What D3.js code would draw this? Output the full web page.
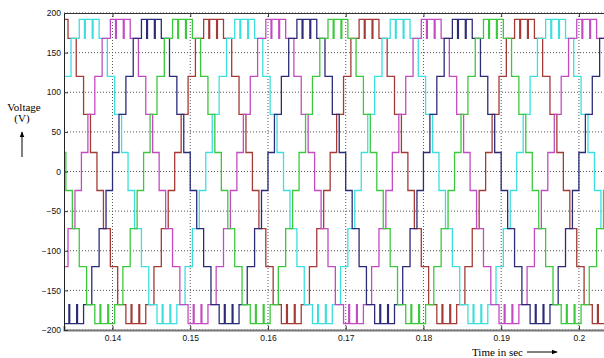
<!DOCTYPE html>
<html>
<head>
<meta charset="utf-8">
<script src="https://cdn.jsdelivr.net/npm/d3@7"></script>
<style>
  body { margin: 0; background: #fff; }
  svg { display: block; }
  .tick text { font-family: "Liberation Sans", Arial, sans-serif; font-size: 8.5px; fill: #111; }
  .lbl { font-family: "Liberation Serif", "Times New Roman", serif; font-size: 11px; fill: #000; }
</style>
</head>
<body>
<svg id="chart"></svg>
<script>
// period of the supply (s) and peak instants of the five phases
const period = 0.02;
const seriesNames = ["a", "b", "c", "d", "e"];
const seriesColors = ["#a33a36", "#3ddede", "#c24bc2", "#2b2b78", "#3cc83c"];
const peakTimes = [0.1530, 0.1570, 0.1610, 0.1650, 0.1690];

// one positive half-cycle of the staircase
// (angle in degrees from the rising zero crossing where each level starts)
const stepAngles = [0, 15, 31, 48, 67, 79, 81, 97, 99, 113, 132, 149, 165];
const stepLevels = [24, 72, 120, 168, 192, 168, 192, 168, 192, 168, 120, 72, 24];

const xTicks = [0.14, 0.15, 0.16, 0.17, 0.18, 0.19, 0.2];
const yTicks = [-200, -150, -100, -50, 0, 50, 100, 150, 200];

const W = 604, H = 358;
const margin = { top: 13, right: -6, bottom: 28, left: 64 };
const innerW = W - margin.left - margin.right;
const innerH = H - margin.top - margin.bottom;

const svg = d3.select("#chart").attr("width", W).attr("height", H);

const x = d3.scaleLinear().domain([0.13376, 0.2040]).range([0, innerW]);
const y = d3.scaleLinear().domain([-200, 200]).range([innerH, 0]);

const g = svg.append("g").attr("transform", `translate(${margin.left},${margin.top})`);

svg.append("defs").append("clipPath").attr("id", "clip")
  .append("rect").attr("width", innerW).attr("height", innerH + 1).attr("y", -0.5);

// grid
g.append("g").selectAll("line").data(xTicks).join("line")
  .attr("x1", d => x(d)).attr("x2", d => x(d))
  .attr("y1", 0).attr("y2", innerH)
  .attr("stroke", "#555").attr("stroke-width", 1).attr("stroke-dasharray", "1,2");
g.append("g").selectAll("line").data(yTicks).join("line")
  .attr("x1", 0).attr("x2", innerW)
  .attr("y1", d => y(d)).attr("y2", d => y(d))
  .attr("stroke", "#555").attr("stroke-width", 1).attr("stroke-dasharray", "1,2");

// build each phase from the half-cycle pattern
function buildSeries(peak) {
  const pts = [];
  const t0 = peak - period / 4;
  const kStart = Math.floor((x.domain()[0] - t0) / period) - 1;
  const kEnd = Math.ceil((x.domain()[1] - t0) / period) + 1;
  for (let k = kStart; k <= kEnd; k++) {
    [1, -1].forEach((sign, half) => {
      stepAngles.forEach((a, i) => {
        const t = t0 + k * period + (half * 180 + a) / 360 * period;
        pts.push({ t: t, v: sign * stepLevels[i] });
      });
    });
  }
  return pts;
}

const line = d3.line().x(d => x(d.t)).y(d => y(d.v)).curve(d3.curveStepAfter);

const plot = g.append("g").attr("clip-path", "url(#clip)");
seriesNames.forEach((name, i) => {
  plot.append("path")
    .datum(buildSeries(peakTimes[i]))
    .attr("fill", "none")
    .attr("stroke", seriesColors[i])
    .attr("stroke-width", 1.3)
    .attr("d", line);
});

// axes (MATLAB style, ticks inside)
const xAxis = g.append("g").attr("transform", `translate(0,${innerH})`)
  .call(d3.axisBottom(x).tickValues(xTicks).tickSize(-4).tickPadding(5).tickFormat(d3.format("")));
xAxis.select(".domain").attr("stroke", "#777").attr("stroke-width", 2);
xAxis.selectAll(".tick line").attr("stroke", "#333");

const xTop = g.append("g")
  .call(d3.axisTop(x).tickValues(xTicks).tickSize(-4).tickFormat(""));
xTop.select(".domain").attr("stroke", "#333");
xTop.selectAll(".tick line").attr("stroke", "#333");

const yAxis = g.append("g")
  .call(d3.axisLeft(y).tickValues(yTicks).tickSize(-4).tickPadding(3));
yAxis.select(".domain").attr("stroke", "#222");
yAxis.selectAll(".tick line").attr("stroke", "#333");

// labels
svg.append("text").attr("class", "lbl").attr("x", 24).attr("y", 111)
  .attr("text-anchor", "middle").text("Voltage");
svg.append("text").attr("class", "lbl").attr("x", 22).attr("y", 122)
  .attr("text-anchor", "middle").text("(V)");
svg.append("text").attr("class", "lbl").attr("x", 472).attr("y", 356)
  .text("Time in sec");

svg.append("defs").append("marker").attr("id", "arrow")
  .attr("viewBox", "0 0 10 10").attr("refX", 9).attr("refY", 5)
  .attr("markerWidth", 6).attr("markerHeight", 6).attr("orient", "auto")
  .append("path").attr("d", "M0,1 L10,5 L0,9 Z").attr("fill", "#000");

svg.append("line").attr("x1", 22).attr("x2", 22).attr("y1", 157).attr("y2", 132)
  .attr("stroke", "#000").attr("stroke-width", 1).attr("marker-end", "url(#arrow)");
svg.append("line").attr("x1", 527).attr("x2", 557).attr("y1", 352).attr("y2", 352)
  .attr("stroke", "#000").attr("stroke-width", 1).attr("marker-end", "url(#arrow)");
</script>
</body>
</html>
